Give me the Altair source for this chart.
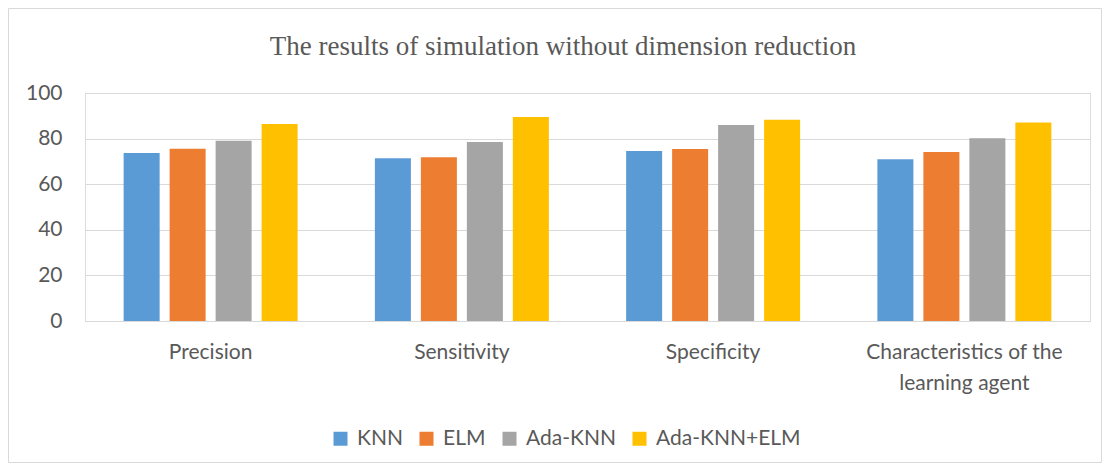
import altair as alt
import pandas as pd

categories = ["Precision", "Sensitivity", "Specificity", "Characteristics of the learning agent"]
series = ["KNN", "ELM", "Ada-KNN", "Ada-KNN+ELM"]
colors = ["#5B9BD5", "#ED7D31", "#A5A5A5", "#FFC000"]
knn = [73.7, 71.4, 74.6, 70.9]
elm = [75.6, 71.8, 75.4, 74.1]
ada_knn = [79.1, 78.5, 86.0, 80.1]
ada_knn_elm = [86.4, 89.5, 88.3, 87.1]
y_ticks = [0, 20, 40, 60, 80, 100]
title_text = "The results of simulation without dimension reduction"

rows = []
for s, vals in zip(series, [knn, elm, ada_knn, ada_knn_elm]):
    for c, v in zip(categories, vals):
        rows.append({"category": c, "series": s, "value": v})
df = pd.DataFrame(rows)

FONT = "Lato"
GRAY = "#595959"

bars = alt.Chart(df).mark_bar().encode(
    x=alt.X("category:N", sort=categories,
            scale=alt.Scale(paddingInner=0, paddingOuter=0),
            axis=alt.Axis(title=None, labelAngle=0, labelFont=FONT, labelFontSize=21,
                          labelColor=GRAY, labelPadding=20, ticks=False, labelLimit=400,
                          domainColor="#d9d9d9", domainWidth=1, grid=False,
                          labelLineHeight=31, labelBaseline="top",
                          labelExpr="datum.label == 'Characteristics of the learning agent' ? ['Characteristics of the', 'learning agent'] : datum.label")),
    xOffset=alt.XOffset("series:N", sort=series,
                        scale=alt.Scale(paddingInner=0.217, paddingOuter=0.84)),
    y=alt.Y("value:Q", scale=alt.Scale(domain=[0, 100]),
            axis=alt.Axis(title=None, values=y_ticks, labelFont=FONT, labelFontSize=21,
                          labelColor=GRAY, labelPadding=23, ticks=False, domain=False,
                          gridColor="#d9d9d9", gridWidth=1)),
    color=alt.Color("series:N", sort=series,
                    scale=alt.Scale(domain=series, range=colors),
                    legend=alt.Legend(title=None, orient="none", direction="horizontal",
                                      legendX=245, legendY=335, symbolType="square",
                                      symbolSize=196, symbolStrokeWidth=0,
                                      labelFont=FONT, labelFontSize=21, labelColor=GRAY,
                                      labelOffset=6, columnPadding=13, padding=0)),
)

border = alt.Chart(pd.DataFrame({"a": [0]})).mark_rect(
    fillOpacity=0, stroke="#d9d9d9", strokeWidth=1
).encode(
    x=alt.value(-76.5), x2=alt.value(1016.5), y=alt.value(-84.5), y2=alt.value(369.5)
)

title = alt.Chart(pd.DataFrame({"t": [title_text]})).mark_text(
    font="Liberation Serif", fontSize=27, color=GRAY, align="center", baseline="alphabetic"
).encode(text="t:N", x=alt.value(478), y=alt.value(-38.5))

chart = alt.layer(border, bars, title).properties(
    width=1005,
    height=228,
    autosize=alt.AutoSizeParams(type="none"),
    padding={"left": 77, "top": 85, "right": 12, "bottom": 142},
).configure_view(stroke=None).configure(background="white")

chart.save("out.html", embed_options={"renderer": "svg", "actions": False})
